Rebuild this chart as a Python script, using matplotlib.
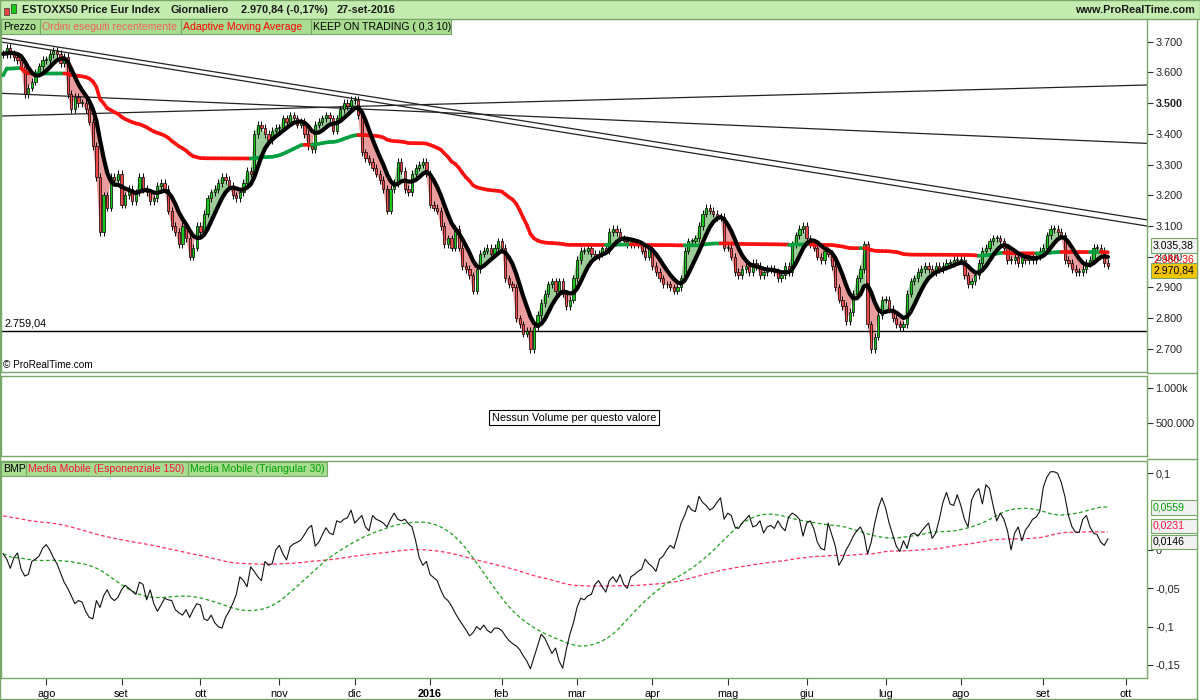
import numpy as np
import pandas as pd
import matplotlib
matplotlib.use('Agg')
import matplotlib.pyplot as plt
from matplotlib.collections import LineCollection
from matplotlib.patches import Rectangle

plt.rcParams['font.family'] = ['Liberation Sans', 'DejaVu Sans']

# barre giornaliere per mese (lug 2015 .. set 2016)
month_bars = [12, 21, 22, 22, 21, 21, 20, 21, 21, 21, 22, 22, 21, 23, 19]
tick_labels = ['ago', 'set', 'ott', 'nov', 'dic', '2016', 'feb', 'mar', 'apr',
               'mag', 'giu', 'lug', 'ago', 'set', 'ott']
bars_to_ott = 4  # barre tra l'ultima chiusura e il 3 ottobre

# chiusure ESTOXX50 (migliaia di punti)
close = [
    3.66, 3.68, 3.66, 3.65, 3.64, 3.62, 3.53, 3.55, 3.57, 3.60, 3.62, 3.64,  # lug
    3.64, 3.66, 3.67, 3.66, 3.63, 3.65, 3.53, 3.48, 3.52, 3.50, 3.50, 3.48, 3.44, 3.36,
    3.26, 3.08, 3.20, 3.16, 3.26, 3.25, 3.27,  # ago
    3.17, 3.20, 3.22, 3.18, 3.21, 3.26, 3.22, 3.21, 3.18, 3.19, 3.23, 3.24, 3.22, 3.15,
    3.10, 3.08, 3.04, 3.10, 3.06, 3.00, 3.03, 3.10,  # set
    3.08, 3.14, 3.19, 3.21, 3.22, 3.24, 3.26, 3.25, 3.23, 3.20, 3.19, 3.21, 3.24, 3.28,
    3.27, 3.40, 3.43, 3.42, 3.40, 3.38, 3.41, 3.42,  # ott
    3.42, 3.45, 3.44, 3.46, 3.45, 3.43, 3.44, 3.40, 3.36, 3.35, 3.43, 3.44, 3.45, 3.46,
    3.45, 3.41, 3.45, 3.48, 3.50, 3.49, 3.51,  # nov
    3.51, 3.46, 3.34, 3.32, 3.31, 3.29, 3.27, 3.25, 3.22, 3.15, 3.22, 3.24, 3.31, 3.28,
    3.22, 3.21, 3.27, 3.29, 3.30, 3.31, 3.27,  # dic
    3.17, 3.16, 3.15, 3.10, 3.04, 3.06, 3.03, 3.09, 3.03, 2.97, 2.96, 2.94, 2.89, 2.96,
    3.01, 3.02, 3.03, 3.01, 3.03, 3.05,  # gen 2016
    3.03, 2.93, 2.91, 2.90, 2.80, 2.78, 2.75, 2.76, 2.70, 2.77, 2.81, 2.85, 2.88, 2.91,
    2.92, 2.89, 2.92, 2.88, 2.84, 2.86, 2.93,  # feb
    2.99, 3.02, 3.02, 3.03, 3.01, 3.00, 3.01, 3.03, 3.02, 3.08, 3.09, 3.08, 3.06, 3.05,
    3.04, 3.05, 3.04, 3.04, 3.02, 3.00, 3.03,  # mar
    2.97, 2.95, 2.93, 2.91, 2.91, 2.90, 2.89, 2.90, 2.93, 3.02, 3.05, 3.05, 3.06, 3.10,
    3.14, 3.16, 3.15, 3.14, 3.13, 3.13, 3.03,  # apr
    3.03, 3.00, 2.95, 2.94, 2.96, 2.97, 2.95, 2.98, 2.97, 2.94, 2.95, 2.96, 2.96, 2.95,
    2.93, 2.94, 2.97, 2.95, 3.04, 3.07, 3.09, 3.10,  # mag
    3.06, 3.04, 3.03, 3.00, 2.99, 3.02, 3.01, 2.97, 2.90, 2.86, 2.84, 2.79, 2.82, 2.88,
    2.93, 2.96, 3.04, 2.78, 2.70, 2.74, 2.81, 2.86,  # giu
    2.86, 2.83, 2.80, 2.78, 2.77, 2.78, 2.88, 2.92, 2.93, 2.95, 2.96, 2.97, 2.96, 2.95,
    2.97, 2.96, 2.97, 2.98, 2.98, 2.99, 2.99,  # lug
    2.99, 2.94, 2.91, 2.92, 2.94, 2.98, 3.02, 3.03, 3.05, 3.06, 3.06, 3.05, 3.03, 2.99,
    2.99, 3.00, 2.98, 3.00, 2.99, 3.00, 2.99, 3.00, 3.02,  # ago
    3.03, 3.07, 3.09, 3.09, 3.08, 3.07, 2.99, 2.98, 2.96, 2.95, 2.95, 2.96, 2.98, 2.99,
    3.03, 3.03, 3.02, 2.98, 2.97084,  # set
]

# indicatore BMP
bmp = [
    -0.005, -0.012, -0.024, -0.010, -0.004, -0.025, -0.034, -0.032, -0.015, -0.012, -0.008, 0.002,
    0.007, 0.0, -0.010, -0.018, -0.030, -0.042, -0.050, -0.060, -0.070, -0.066, -0.068, -0.080,
    -0.088, -0.090, -0.066, -0.075, -0.060, -0.052, -0.062, -0.066, -0.062,
    -0.052, -0.046, -0.050, -0.054, -0.058, -0.042, -0.045, -0.065, -0.052, -0.070, -0.080,
    -0.072, -0.063, -0.065, -0.066, -0.078, -0.082, -0.085, -0.078, -0.088, -0.078, -0.070,
    -0.072, -0.090, -0.092, -0.085, -0.095, -0.100, -0.102, -0.088, -0.080, -0.070, -0.058,
    -0.035, -0.040, -0.048, -0.022, -0.028, -0.035, -0.040, -0.015, -0.020, -0.018, 0.0,
    0.006, -0.005, -0.013, 0.004, 0.008, 0.010, 0.013, 0.020, 0.028, 0.032, 0.005, 0.010,
    0.020, 0.029, 0.022, 0.020, 0.038, 0.036, 0.040, 0.042, 0.052,
    0.035, 0.040, 0.045, 0.030, 0.025, 0.045, 0.040, 0.038, 0.035, 0.030, 0.040, 0.048,
    0.040, 0.038, 0.040, 0.034, 0.030, 0.012, -0.010, -0.020, -0.015,
    -0.032, -0.036, -0.040, -0.052, -0.062, -0.066, -0.073, -0.082, -0.090, -0.097, -0.104,
    -0.112, -0.108, -0.100, -0.104, -0.098, -0.105, -0.108, -0.102, -0.102,
    -0.105, -0.112, -0.118, -0.122, -0.125, -0.130, -0.138, -0.145, -0.155, -0.140, -0.125,
    -0.110, -0.115, -0.125, -0.135, -0.128, -0.145, -0.154, -0.130, -0.110, -0.095,
    -0.075, -0.063, -0.065, -0.060, -0.058, -0.045, -0.040, -0.048, -0.055, -0.040, -0.035,
    -0.042, -0.032, -0.045, -0.050, -0.035, -0.032, -0.028, -0.025, -0.012, -0.018,
    -0.022, -0.028, -0.012, -0.008, 0.0, 0.006, 0.002, 0.018, 0.035, 0.045, 0.058, 0.052,
    0.050, 0.070, 0.062, 0.058, 0.052, 0.055, 0.062, 0.068, 0.040,
    0.048, 0.045, 0.030, 0.028, 0.035, 0.040, 0.045, 0.030, 0.032, 0.038, 0.022, 0.030,
    0.032, 0.028, 0.038, 0.030, 0.025, 0.043, 0.048, 0.045, 0.040, 0.018,
    0.035, 0.038, 0.028, 0.010, 0.002, 0.0, 0.035, 0.020, 0.005, -0.020, -0.012, 0.0,
    0.008, 0.018, 0.025, 0.030, 0.020, -0.005, 0.010, 0.035, 0.055, 0.068,
    0.055, 0.035, 0.020, 0.005, -0.002, 0.012, 0.002, 0.020, 0.022, 0.018, 0.024, 0.030,
    0.035, 0.015, 0.022, 0.040, 0.062, 0.075, 0.060, 0.058, 0.072,
    0.058, 0.040, 0.030, 0.065, 0.075, 0.080, 0.060, 0.085, 0.080, 0.058, 0.038, 0.048,
    0.040, 0.025, 0.0, 0.022, 0.030, 0.012, 0.026, 0.032, 0.040, 0.043, 0.050,
    0.082, 0.095, 0.102, 0.102, 0.100, 0.088, 0.070, 0.045, 0.030, 0.023, 0.023, 0.040,
    0.045, 0.030, 0.022, 0.020, 0.010, 0.006, 0.0146,
]

ama_start = 3.59
bmp_ema_start = 0.045

# linee di tendenza: prezzo al bordo sinistro e al bordo destro
trend_left = [3.712, 3.699, 3.532, 3.458]
trend_right = [3.120, 3.100, 3.369, 3.559]
support = 2.75904

W, H = 1200, 700
GREEN_FRAME = '#78a868'
FS = 7.8


def rect(x0, y0, x1, y1):
    return [x0 / W, 1 - y1 / H, (x1 - x0) / W, (y1 - y0) / H]


def t3(s, span, v):
    # media mobile T3 (Tillson)
    def gd(a):
        e1 = a.ewm(span=span, adjust=False).mean()
        e2 = e1.ewm(span=span, adjust=False).mean()
        return e1 * (1 + v) - e2 * v
    return gd(gd(gd(s)))


def kama(c, n, fast, slow, start):
    out = np.empty(len(c))
    prev = start
    fsc, ssc = 2 / (fast + 1), 2 / (slow + 1)
    for i in range(len(c)):
        j = max(0, i - n)
        vol = np.abs(np.diff(c[j:i + 1])).sum()
        er = abs(c[i] - c[j]) / vol if vol > 0 else 0
        sc = (er * (fsc - ssc) + ssc) ** 2
        prev = prev + sc * (c[i] - prev)
        out[i] = prev
    return out


c = np.array(close)
n = len(c)
x = np.arange(n)
op = np.concatenate([[c[0]], c[:-1]])
hi = np.maximum(op, c) + 0.012
lo = np.minimum(op, c) - 0.012

cs = pd.Series(c)
kot = t3(cs, 4, 0.3).values
ama = kama(c, 30, 3, 200, ama_start)

b = pd.Series(bmp)
tri30 = b.rolling(15, min_periods=1).mean().rolling(16, min_periods=1).mean().values
ema150 = np.empty(n)
prev = bmp_ema_start
for i, v in enumerate(bmp):
    prev = prev + 2 / 151 * (v - prev)
    ema150[i] = prev

fig = plt.figure(figsize=(12, 7), dpi=100)
xlim = (-0.6, 318.9)

# ---- pannello prezzo
ax1 = fig.add_axes(rect(1, 18, 1147, 372))
ax1.set_xlim(*xlim)
ax1.set_ylim(2.625, 3.777)

ax1.fill_between(x, c, kot, where=c >= kot, interpolate=True, color='#9ccc98', lw=0, zorder=1)
ax1.fill_between(x, c, kot, where=c < kot, interpolate=True, color='#eb9c9c', lw=0, zorder=1)

for l, r in zip(trend_left, trend_right):
    ax1.plot(xlim, [l, r], color='#222222', lw=0.9, zorder=2)
ax1.axhline(support, color='black', lw=1, zorder=2)

up = c >= op
body_col = np.where(up, '#18c818', '#f04848')
ax1.vlines(x, lo, hi, color='black', lw=0.7, zorder=3)
ax1.bar(x, np.maximum(np.abs(c - op), 0.003), bottom=np.minimum(op, c), width=0.62,
        color=body_col, edgecolor='black', linewidth=0.5, zorder=4)

pts = np.column_stack([x, ama])
segs = np.stack([pts[:-1], pts[1:]], axis=1)
seg_col = np.where(c[1:] >= ama[1:], '#00a040', '#ff1010')
ax1.add_collection(LineCollection(segs, colors=seg_col, linewidths=2.6, zorder=5,
                                  capstyle='round'))
ax1.plot(x, kot, color='black', lw=3.0, zorder=6, solid_capstyle='round')

ax1.yaxis.tick_right()
ax1.set_yticks([2.7, 2.8, 2.9, 3.0, 3.1, 3.2, 3.3, 3.4, 3.5, 3.6, 3.7])
ax1.set_yticklabels(['2.700', '2.800', '2.900', '3.000', '3.100', '3.200', '3.300',
                     '3.400', '3.500', '3.600', '3.700'])
ax1.get_yticklabels()[8].set_fontweight('bold')
ax1.set_xticks([])
ax1.text(0.4, 2.765, '2.759,04', fontsize=FS, va='bottom', zorder=7)
ax1.text(0.002, 0.005, '© ProRealTime.com', transform=ax1.transAxes, fontsize=7.2,
         va='bottom', zorder=7)

# ---- pannello volume
ax2 = fig.add_axes(rect(1, 376, 1147, 456))
ax2.set_xlim(*xlim)
ax2.set_ylim(29e3, 1.171e6)
ax2.yaxis.tick_right()
ax2.set_yticks([5e5, 1e6])
ax2.set_yticklabels(['500.000', '1.000k'])
ax2.set_xticks([])
ax2.text(0.5, 0.48, 'Nessun Volume per questo valore', transform=ax2.transAxes,
         ha='center', va='center', fontsize=FS,
         bbox=dict(boxstyle='square,pad=0.25', fc='white', ec='black', lw=0.8))

# ---- pannello BMP
ax3 = fig.add_axes(rect(1, 461, 1147, 678))
ax3.set_xlim(*xlim)
ax3.set_ylim(-0.167, 0.116)
ax3.plot(x, ema150, color='#ff3060', lw=0.9, dashes=(3, 2))
ax3.plot(x, tri30, color='#20a020', lw=0.9, dashes=(3, 2))
ax3.plot(x, bmp, color='#111111', lw=0.8)
ax3.yaxis.tick_right()
ax3.set_yticks([-0.15, -0.1, -0.05, 0, 0.1])
ax3.set_yticklabels(['-0,15', '-0,1', '-0,05', '0', '0,1'])

starts = np.cumsum(month_bars)[:-1]
ax3.set_xticks(list(starts) + [n + bars_to_ott])
ax3.set_xticklabels(tick_labels)
for t in ax3.get_xticklabels():
    if t.get_text() == '2016':
        t.set_fontweight('bold')
        t.set_fontsize(9.5)

for ax in (ax1, ax2, ax3):
    ax.set_facecolor('white')
    for s in ax.spines.values():
        s.set_color(GREEN_FRAME)
        s.set_linewidth(1)
    ax.tick_params(axis='y', labelsize=FS, length=4, color='#333333', pad=2,
                   labelcolor='#222222')
ax3.tick_params(axis='x', labelsize=FS, length=5, color='#333333', pad=3)

# ---- intestazione
fig.patches.append(Rectangle((0, 1 - 19 / H), 1, 19 / H, transform=fig.transFigure,
                             fc='#c4ecb0', ec=GREEN_FRAME, lw=1, zorder=1))
fig.patches.append(Rectangle((4 / W, 1 - 15 / H), 5 / W, 7 / H, transform=fig.transFigure,
                             fc='#f04848', ec='#333333', lw=0.5, zorder=2))
fig.patches.append(Rectangle((11 / W, 1 - 13 / H), 5 / W, 9 / H, transform=fig.transFigure,
                             fc='#18c818', ec='#333333', lw=0.5, zorder=2))
head = [(22, 'ESTOXX50 Price Eur Index'), (171, 'Giornaliero'),
        (241, '2.970,84 (-0,17%)'), (337, '27-set-2016')]
for hx, txt in head:
    fig.text(hx / W, 1 - 10 / H, txt, fontsize=FS, fontweight='bold', va='center',
             color='#1a1a1a', zorder=3)
fig.text(1195 / W, 1 - 10 / H, 'www.ProRealTime.com', fontsize=FS, fontweight='bold',
         ha='right', va='center', color='#1a1a1a', zorder=3)


def legend_row(items, y0, y1):
    for (x0, x1, txt, col) in items:
        fig.patches.append(Rectangle((x0 / W, 1 - y1 / H), (x1 - x0) / W, (y1 - y0) / H,
                                     transform=fig.transFigure, fc='#a8dc90',
                                     ec=GREEN_FRAME, lw=0.8, zorder=4))
        fig.text((x0 + 2) / W, 1 - (y0 + y1) / 2 / H, txt, fontsize=7.6, color=col,
                 va='center', zorder=5)


legend_row([(1, 40, 'Prezzo', 'black'),
            (40, 181, 'Ordini eseguiti recentemente', '#f06060'),
            (181, 311, 'Adaptive Moving Average', '#ff0000'),
            (311, 451, 'KEEP ON TRADING ( 0,3 10)', 'black')], 19, 34)
legend_row([(1, 26, 'BMP', 'black'),
            (26, 188, 'Media Mobile (Esponenziale 150)', '#ff1040'),
            (188, 327, 'Media Mobile (Triangular 30)', '#00a000')], 462, 476)


def value_box(y0, y1, txt, col, fc):
    fig.patches.append(Rectangle((1151 / W, 1 - y1 / H), 46 / W, (y1 - y0) / H,
                                 transform=fig.transFigure, fc=fc, ec=GREEN_FRAME,
                                 lw=0.8, zorder=6))
    fig.text(1153 / W, 1 - (y0 + y1) / 2 / H, txt, fontsize=7.6, color=col,
             va='center', zorder=7)


value_box(238, 253, '3.035,38', 'black', '#f2f2f2')
fig.text(1153 / W, 1 - 260 / H, '2.980,36', fontsize=7.6, color='#ff0000', va='center',
         zorder=5)
value_box(263, 278, '2.970,84', 'black', '#f5c400')
value_box(500, 515, '0,0559', '#00a000', '#f2f2f2')
value_box(519, 533, '0,0231', '#ff1040', '#f2f2f2')
value_box(535, 549, '0,0146', 'black', '#f2f2f2')

# cornice esterna
for (xa, ya, xb, yb) in [(1197, 19, 1197, 699), (0, 699, 1197, 699), (0, 19, 0, 699),
                         (1147, 373, 1197, 373), (1147, 459, 1197, 459)]:
    fig.add_artist(plt.Line2D([xa / W, xb / W], [1 - ya / H, 1 - yb / H],
                              transform=fig.transFigure, color=GREEN_FRAME, lw=1))

fig.savefig('out.png', dpi=100)
